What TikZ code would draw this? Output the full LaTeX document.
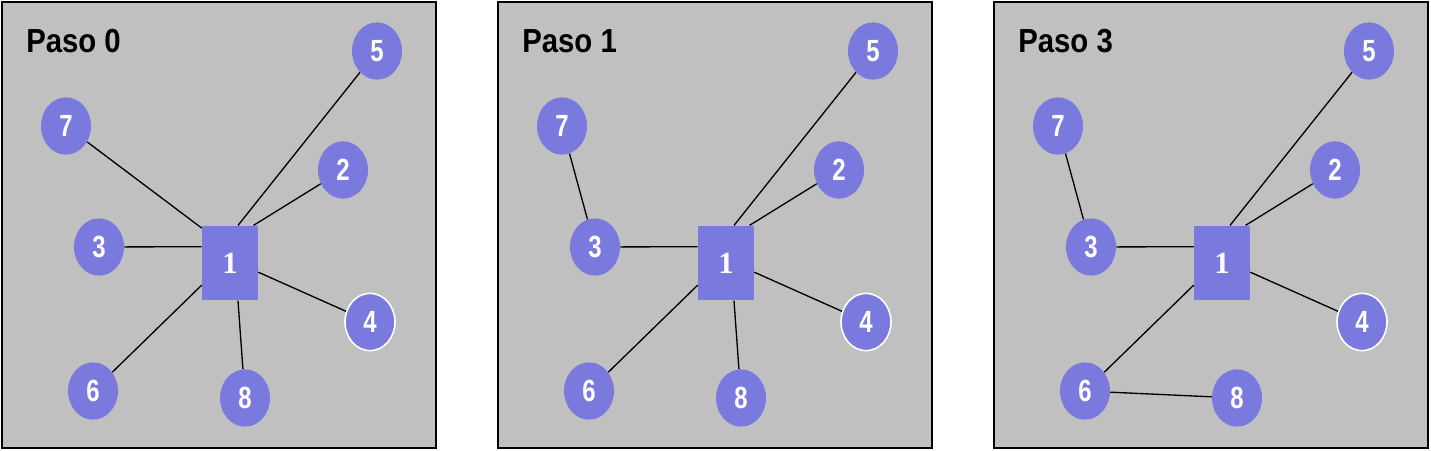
\documentclass[tikz,border=0pt]{standalone}
\usepackage{fontspec}
\usepackage{tikz}
\usetikzlibrary{shapes.geometric}

\newfontfamily\narrowsans[FakeStretch=0.78]{Liberation Sans}
\newfontfamily\titlesans[FakeStretch=0.88]{Liberation Sans}
\newfontfamily\timesbold{Liberation Serif}
\definecolor{nodeblue}{RGB}{122,122,222}
\definecolor{panelgray}{RGB}{192,192,192}

\tikzset{
  vertex/.style={ellipse, fill=nodeblue, minimum width=37.5pt, minimum height=43pt, inner sep=0pt,
    text=white, font=\narrowsans\bfseries\fontsize{23}{23}\selectfont},
  vertexring/.style={vertex, draw=white, line width=1.2pt},
  root/.style={rectangle, fill=nodeblue, minimum width=42pt, minimum height=56pt, inner sep=0pt,
    text=white, font=\timesbold\bfseries\fontsize{23}{23}\selectfont},
  panel/.style={fill=panelgray, draw=black, line width=1.5pt},
  edge/.style={black, line width=1pt},
  steplabel/.style={anchor=base west, inner sep=0pt, font=\titlesans\bfseries\fontsize{25}{25}\selectfont}
}

\begin{document}
\begin{tikzpicture}[x=0.75pt,y=0.75pt,yscale=-1,xscale=1]
\useasboundingbox (0,0) rectangle (1431,450);

% one panel per step: shift, step number, links
\foreach \i/\dx/\paso/\links in {0/0/0/{7/1.129,3/1.150,5/1.78,2/1.58,4/1.342,6/1.218,8/1.282},
                                 1/496/1/{7/3,3/1.150,5/1.78,2/1.58,4/1.342,6/1.218,8/1.282},
                                 2/992/3/{7/3,3/1.150,5/1.78,2/1.58,4/1.342,6/1.218,6/8}}{
  \begin{scope}[shift={(\dx,0)}]
    % Frame
    \draw [panel] (2,2) rectangle (436,448);
    \node [steplabel] (paso\i) at (26,52) {Paso \paso};

    % Nodes
    \node [root] (p\i-1) at (230,263) {1};
    \foreach \n/\x/\y in {5/377/51, 7/66/126, 2/343/170, 3/99/247, 6/93/391, 8/245/398}
      \node [vertex] (p\i-\n) at (\x,\y) {\n};
    \node [vertexring] (p\i-4) at (370,322) {4};

    % Links
    \foreach \a/\b in \links
      \draw [edge] (p\i-\a) -- (p\i-\b);
  \end{scope}
}
\end{tikzpicture}
\end{document}
